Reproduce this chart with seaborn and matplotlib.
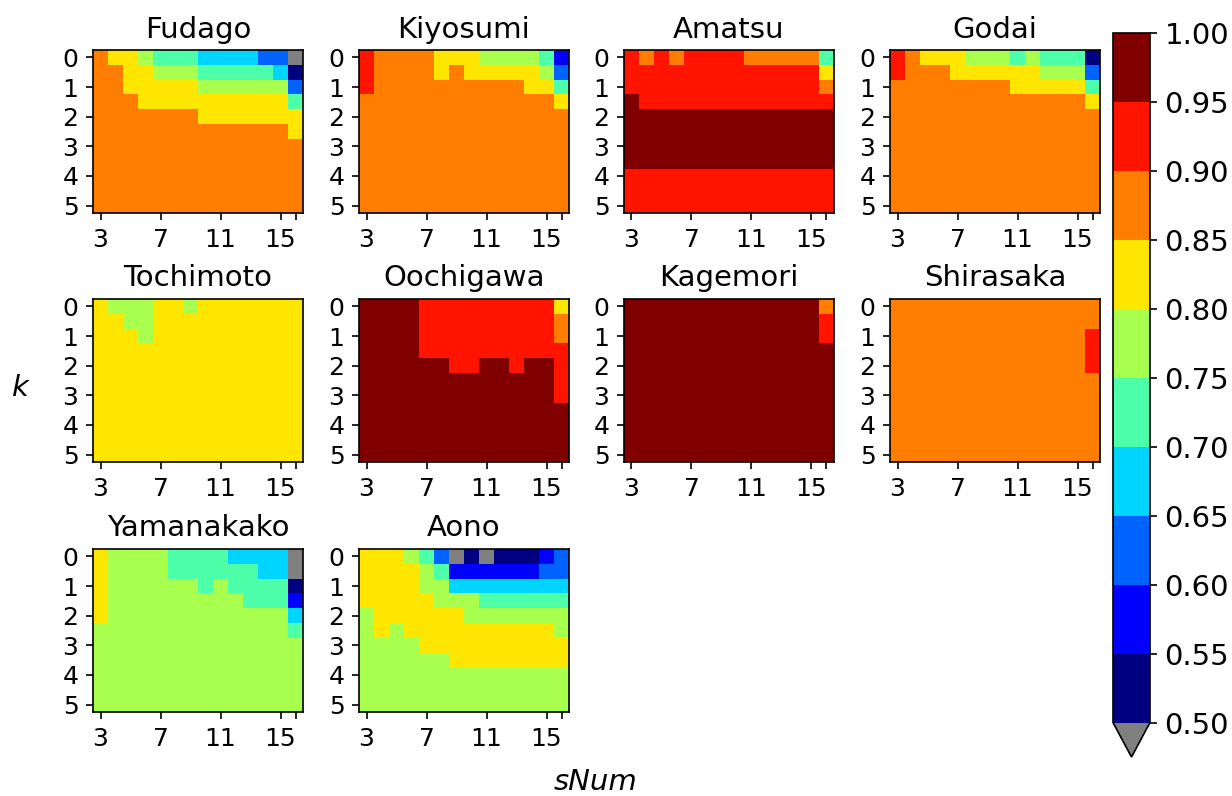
import numpy as np
import pandas as pd
import matplotlib
matplotlib.use('Agg')
import matplotlib.pyplot as plt
import seaborn as sns

# axes categories
s_num = [3, 4, 5, 6, 7, 8, 9, 10, 11, 12, 13, 14, 15, 16]
k_vals = [0.0, 0.5, 1.0, 1.5, 2.0, 2.5, 3.0, 3.5, 4.0, 4.5, 5.0]
x_tick_labels = ['3', '7', '11', '15', '']
y_tick_labels = ['0', '1', '2', '3', '4', '5']
cbar_ticks = [0.50, 0.55, 0.60, 0.65, 0.70, 0.75, 0.80, 0.85, 0.90, 0.95, 1.00]

sites = ['Fudago', 'Kiyosumi', 'Amatsu', 'Godai', 'Tochimoto',
         'Oochigawa', 'Kagemori', 'Shirasaka', 'Yamanakako', 'Aono']

# values (rows = k, cols = sNum)
fudago = [
    [.88, .83, .83, .78, .73, .73, .73, .68, .68, .68, .68, .63, .63, .45],
    [.88, .88, .83, .83, .78, .78, .78, .73, .73, .73, .73, .73, .68, .53],
    [.88, .88, .83, .83, .83, .83, .83, .78, .78, .78, .78, .78, .78, .63],
    [.88, .88, .88, .83, .83, .83, .83, .83, .83, .83, .83, .83, .83, .73],
    [.88] * 7 + [.83] * 7,
    [.88] * 13 + [.83],
    [.88] * 14, [.88] * 14, [.88] * 14, [.88] * 14, [.88] * 14,
]
kiyosumi = [
    [.93, .88, .88, .88, .88, .83, .83, .83, .78, .78, .78, .78, .73, .58],
    [.93, .88, .88, .88, .88, .83, .88, .83, .83, .83, .83, .83, .78, .63],
    [.93] + [.88] * 10 + [.83, .83, .73],
    [.88] * 13 + [.83],
    [.88] * 14, [.88] * 14, [.88] * 14, [.88] * 14,
    [.88] * 14, [.88] * 14, [.88] * 14,
]
amatsu = [
    [.93, .88, .93, .88, .93, .93, .93, .93, .88, .88, .88, .88, .88, .73],
    [.93] * 13 + [.83],
    [.93] * 13 + [.88],
    [.98] + [.93] * 13,
    [.98] * 14, [.98] * 14, [.98] * 14, [.98] * 14,
    [.93] * 14, [.93] * 14, [.93] * 14,
]
godai = [
    [.93, .88, .83, .83, .83, .78, .78, .78, .73, .78, .73, .73, .73, .53],
    [.93, .88, .88, .88, .83, .83, .83, .83, .83, .83, .78, .78, .78, .63],
    [.88] * 8 + [.83] * 5 + [.73],
    [.88] * 13 + [.83],
    [.88] * 14, [.88] * 14, [.88] * 14, [.88] * 14,
    [.88] * 14, [.88] * 14, [.88] * 14,
]
tochimoto = [
    [.83, .78, .78, .78, .83, .83, .78, .83, .83, .83, .83, .83, .83, .83],
    [.83, .83, .78, .78, .83, .83, .83, .83, .83, .83, .83, .83, .83, .83],
    [.83, .83, .83, .78, .83, .83, .83, .83, .83, .83, .83, .83, .83, .83],
    [.83] * 14, [.83] * 14, [.83] * 14, [.83] * 14,
    [.83] * 14, [.83] * 14, [.83] * 14, [.83] * 14,
]
oochigawa = [
    [.98] * 4 + [.93] * 9 + [.83],
    [.98] * 4 + [.93] * 9 + [.88],
    [.98] * 4 + [.93] * 9 + [.88],
    [.98] * 4 + [.93] * 9 + [.93],
    [.98, .98, .98, .98, .98, .98, .93, .93, .98, .98, .93, .98, .98, .93],
    [.98] * 13 + [.93],
    [.98] * 13 + [.93],
    [.98] * 14, [.98] * 14, [.98] * 14, [.98] * 14,
]
kagemori = [
    [.98] * 13 + [.88],
    [.98] * 13 + [.93],
    [.98] * 13 + [.93],
    [.98] * 14, [.98] * 14, [.98] * 14, [.98] * 14,
    [.98] * 14, [.98] * 14, [.98] * 14, [.98] * 14,
]
shirasaka = [
    [.88] * 14, [.88] * 14,
    [.88] * 13 + [.93],
    [.88] * 13 + [.93],
    [.88] * 13 + [.93],
    [.88] * 14, [.88] * 14, [.88] * 14,
    [.88] * 14, [.88] * 14, [.88] * 14,
]
yamanakako = [
    [.83, .78, .78, .78, .78, .73, .73, .73, .73, .68, .68, .68, .68, .45],
    [.83, .78, .78, .78, .78, .73, .73, .73, .73, .73, .73, .68, .68, .45],
    [.83, .78, .78, .78, .78, .78, .78, .73, .78, .73, .73, .73, .73, .53],
    [.83] + [.78] * 9 + [.73, .73, .73, .58],
    [.83] + [.78] * 12 + [.68],
    [.78] * 13 + [.73],
    [.78] * 14, [.78] * 14, [.78] * 14, [.78] * 14, [.78] * 14,
]
aono = [
    [.83, .83, .83, .78, .73, .63, .45, .53, .45, .53, .53, .53, .58, .63],
    [.83, .83, .83, .83, .78, .73, .58, .58, .58, .58, .58, .58, .63, .63],
    [.83] * 4 + [.78, .78] + [.68] * 8,
    [.83] * 5 + [.78] * 3 + [.73] * 6,
    [.78] + [.83] * 6 + [.78] * 7,
    [.78, .83, .78] + [.83] * 10 + [.78],
    [.78] * 4 + [.83] * 10,
    [.78] * 6 + [.83] * 8,
    [.78] * 14, [.78] * 14, [.78] * 14,
]
grids = [fudago, kiyosumi, amatsu, godai, tochimoto,
         oochigawa, kagemori, shirasaka, yamanakako, aono]

W, H = 1232, 796
fig = plt.figure(figsize=(W / 150, H / 150), dpi=150)

cmap = plt.get_cmap('jet', 10).copy()
cmap.set_under('grey')

lefts = [93, 359, 624, 890]
tops = [50, 299, 549]
aw, ah = 210, 163

for i, (name, grid) in enumerate(zip(sites, grids)):
    r, c = divmod(i, 4)
    ax = fig.add_axes([lefts[c] / W, 1 - (tops[r] + ah) / H, aw / W, ah / H])
    df = pd.DataFrame(grid, index=k_vals, columns=s_num)
    sns.heatmap(df, ax=ax, cmap=cmap, vmin=0.5, vmax=1.0, cbar=False,
                xticklabels=False, yticklabels=False)
    for sp in ax.spines.values():
        sp.set_visible(True)
        sp.set_color('black')
    ax.set_xticks([0.5, 4.5, 8.5, 12.5, 13.5])
    ax.set_xticklabels(x_tick_labels, rotation=0, fontsize=12)
    ax.set_yticks([0.5, 2.5, 4.5, 6.5, 8.5, 10.5])
    ax.set_yticklabels(y_tick_labels, rotation=0, fontsize=12)
    ax.tick_params(length=3.5, width=0.8)
    ax.set_xlabel('')
    ax.set_ylabel('')
    ax.set_title(name, fontsize=14, pad=6)

# colorbar box includes the lower extension triangle
cax = fig.add_axes([1113 / W, 1 - 757 / H, 37 / W, 724 / H])
cb = fig.colorbar(ax.collections[0], cax=cax, extend='min', ticks=cbar_ticks,
                  format='%.2f')
cb.ax.tick_params(labelsize=14)

fig.text(20 / W, 1 - 388 / H, 'k', style='italic', fontsize=14,
         ha='center', va='center')
fig.text(596 / W, 1 - 782 / H, 'sNum', style='italic', fontsize=14,
         ha='center', va='center')

fig.savefig('out.png', dpi=150)
